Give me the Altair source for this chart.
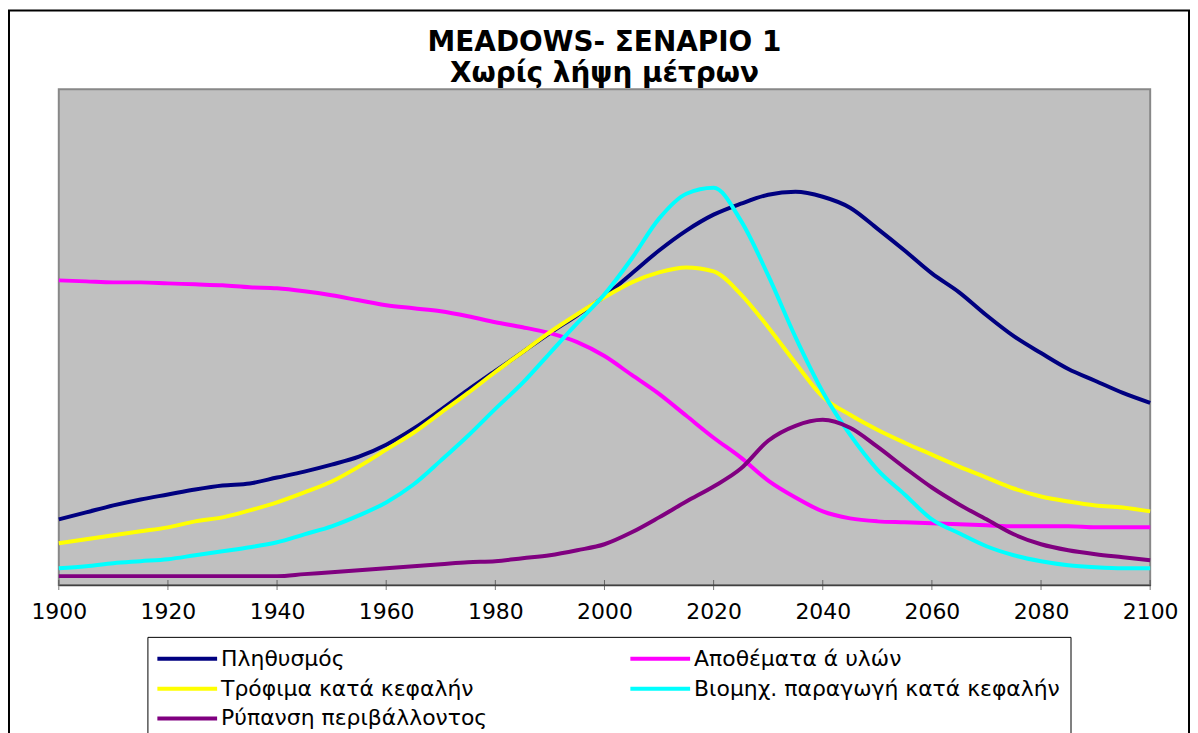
import altair as alt
import pandas as pd

years = [1900, 1905, 1910, 1915, 1920, 1925, 1930, 1935, 1940, 1945,
         1950, 1955, 1960, 1965, 1970, 1975, 1980, 1985, 1990, 1995,
         2000, 2005, 2010, 2015, 2020, 2025, 2030, 2035, 2040, 2045,
         2050, 2055, 2060, 2065, 2070, 2075, 2080, 2085, 2090, 2095, 2100]

population = [66, 73, 80, 86, 91, 96, 100, 102, 108, 114,
              121, 129, 141, 157, 176, 196, 215, 234, 253, 271,
              290, 313, 336, 356, 372, 383, 392, 395, 390, 379,
              358, 336, 313, 294, 271, 250, 233, 217, 205, 193, 183]

resources = [306, 305, 304, 304, 303, 302, 301, 299, 298, 295,
             291, 286, 281, 278, 275, 270, 264, 259, 253, 244,
             230, 211, 192, 170, 148, 128, 105, 88, 74, 67,
             64, 63, 62, 61, 60, 59, 59, 59, 58, 58, 58]

food = [42, 46, 50, 54, 58, 64, 68, 75, 83, 93,
        104, 119, 136, 153, 173, 193, 214, 234, 254, 272,
        289, 304, 314, 319, 315, 292, 259, 223, 189, 171,
        156, 143, 131, 119, 108, 97, 89, 84, 80, 78, 74]

industry = [17, 19, 22, 24, 26, 30, 34, 38, 43, 51,
            59, 70, 83, 101, 125, 150, 177, 203, 233, 263,
            292, 328, 368, 393, 399, 366, 311, 249, 194, 151,
            116, 91, 66, 52, 39, 30, 24, 20, 18, 17, 17]

pollution = [9, 9, 9, 9, 9, 9, 9, 9, 9, 11,
             13, 15, 17, 19, 21, 23, 24, 27, 30, 35,
             41, 53, 68, 84, 99, 117, 145, 160, 166, 158,
             139, 118, 98, 81, 66, 51, 41, 35, 31, 28, 25]

series_names = ["Πληθυσμός", "Αποθέματα ά υλών", "Τρόφιμα κατά κεφαλήν",
                "Βιομηχ. παραγωγή κατά κεφαλήν", "Ρύπανση περιβάλλοντος"]
series_colors = ["#000080", "#FF00FF", "#FFFF00", "#00FFFF", "#800080"]
tick_years = [1900, 1920, 1940, 1960, 1980, 2000, 2020, 2040, 2060, 2080, 2100]

title_lines = ["MEADOWS- ΣΕΝΑΡΙΟ 1", "Χωρίς λήψη μέτρων"]

rows = []
for name, vals in zip(series_names, [population, resources, food, industry, pollution]):
    for yr, v in zip(years, vals):
        rows.append({"year": yr, "value": v, "series": name})
df = pd.DataFrame(rows)
tick_df = pd.DataFrame({"year": tick_years})

W, H = 1096, 498
FONT = "DejaVu Sans"

x_scale = alt.Scale(domain=[1900, 2100], nice=False, zero=False)

frame = alt.Chart(pd.DataFrame({"a": [0]})).mark_rect(
    fillOpacity=0, stroke="black", strokeWidth=2
).encode(
    x=alt.value(-50), x2=alt.value(W + 39),
    y=alt.value(-79), y2=alt.value(H + 170)
)

lines = alt.Chart(df).mark_line(strokeWidth=4, interpolate="monotone").encode(
    x=alt.X("year:Q", scale=x_scale,
            axis=alt.Axis(values=tick_years, format="d", title=None, ticks=False,
                          tickSize=0, grid=False, labelFont=FONT, labelFontSize=22,
                          labelColor="black", labelPadding=17, labelFlush=False,
                          labelOverlap=False,
                          domainColor="#404040", domainWidth=1.5)),
    y=alt.Y("value:Q", scale=alt.Scale(domain=[0, H]), axis=None),
    color=alt.Color("series:N",
                    scale=alt.Scale(domain=series_names, range=series_colors),
                    legend=alt.Legend(
                        title=None, orient="none", legendX=89, legendY=550,
                        columns=2, direction="horizontal",
                        columnPadding=135, rowPadding=7,
                        symbolType="M-1.2,0H4.8", symbolSize=400, symbolStrokeWidth=4,
                        labelFont=FONT, labelFontSize=22, labelColor="black",
                        labelOffset=40, labelLimit=600,
                        strokeColor="black", fillColor="white", padding=10)),
)

ticks = alt.Chart(tick_df).mark_tick(color="#404040", size=10, thickness=1).encode(
    x=alt.X("year:Q", scale=x_scale),
    y=alt.value(H)
)

chart = alt.layer(frame, lines, ticks).properties(
    width=W, height=H,
    background="white",
    title=alt.TitleParams(text=title_lines, font=FONT, fontSize=28, fontWeight="bold",
                          color="black", anchor="middle", lineHeight=31, offset=4, dy=83),
    autosize=alt.AutoSizeParams(type="none"),
    padding={"left": 51, "top": 80, "right": 40, "bottom": 147},
).configure_view(
    fill="#C0C0C0", stroke="#888888", strokeWidth=2
)

chart.save("out.html", embed_options={"renderer": "svg", "actions": False})
